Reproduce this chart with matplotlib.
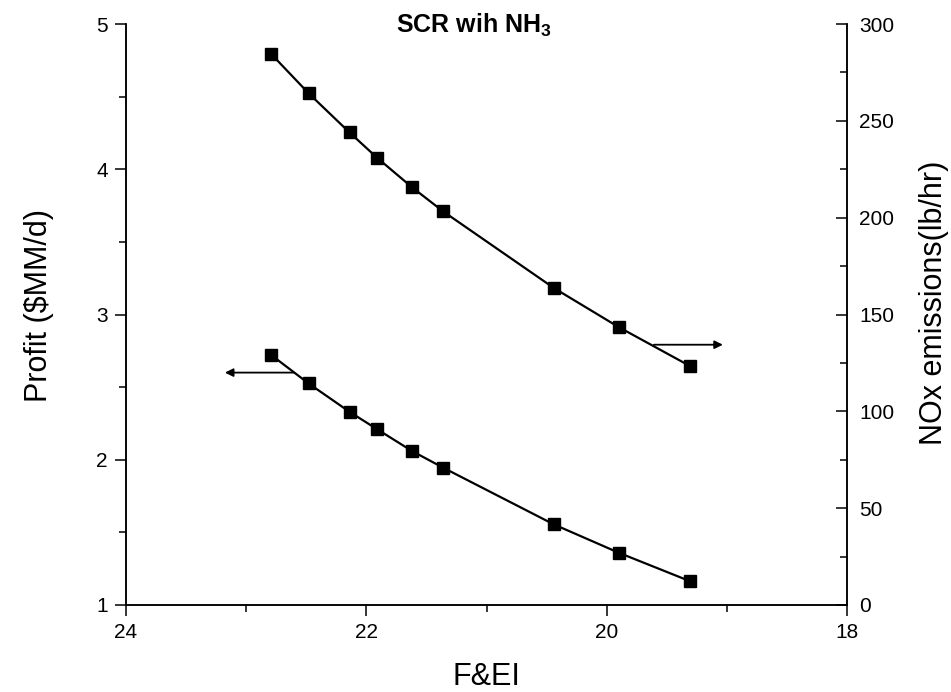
import matplotlib
matplotlib.use("Agg")
import matplotlib.pyplot as plt
from matplotlib.ticker import MultipleLocator

plt.rcParams["font.family"] = ["Liberation Sans", "DejaVu Sans"]
plt.rcParams["mathtext.fontset"] = "custom"
plt.rcParams["mathtext.bf"] = "Liberation Sans:bold"
plt.rcParams["mathtext.rm"] = "Liberation Sans"

# F&EI values (x axis, reversed)
fei = [22.79, 22.48, 22.14, 21.91, 21.62, 21.36, 20.44, 19.90, 19.31]
# Profit ($MM/d), left axis
profit = [2.72, 2.525, 2.33, 2.21, 2.06, 1.945, 1.555, 1.36, 1.165]
# NOx emissions (lb/hr), right axis
nox = [284.4, 264.2, 244.0, 230.9, 215.7, 203.2, 163.7, 143.5, 123.5]

# arrows telling which axis each curve belongs to
profit_arrow = ((22.58, 2.60), (23.20, 2.60))
nox_arrow = ((19.63, 134.4), (19.01, 134.4))

W, H = 951, 692


def main():
    fig = plt.figure(figsize=(W / 100, H / 100), dpi=100)
    ax1 = fig.add_axes([126 / W, 1 - 605 / H, 721 / W, 581 / H])
    ax2 = ax1.twinx()

    ax1.plot(fei, profit, color="k", lw=1.6, marker="s", ms=8, mec="k", mfc="k")
    ax2.plot(fei, nox, color="k", lw=1.6, marker="s", ms=8, mec="k", mfc="k")

    ax1.set_xlim(24, 18)
    ax1.set_ylim(1, 5)
    ax2.set_ylim(0, 300)

    ax1.xaxis.set_major_locator(MultipleLocator(2))
    ax1.xaxis.set_minor_locator(MultipleLocator(1))
    ax1.yaxis.set_major_locator(MultipleLocator(1))
    ax1.yaxis.set_minor_locator(MultipleLocator(0.5))
    ax2.yaxis.set_major_locator(MultipleLocator(50))
    ax2.yaxis.set_minor_locator(MultipleLocator(25))

    for ax in (ax1, ax2):
        ax.spines["top"].set_visible(False)
        for s in ax.spines.values():
            s.set_linewidth(1.1)

    ax1.tick_params(which="major", direction="out", length=8, width=1.1, labelsize=15, pad=5)
    ax1.tick_params(which="minor", direction="out", length=5, width=1.1)
    ax2.tick_params(which="major", direction="in", length=8, width=1.1, labelsize=15, pad=8.6)
    ax2.tick_params(which="minor", direction="in", length=5, width=1.1)

    # axis titles, placed in figure pixels like the original
    fig.text(486 / W, 1 - 685 / H, "F&EI", fontsize=22, ha="center", va="baseline")
    fig.text(39 / W, 1 - 305 / H, "Profit (\\$MM/d)", fontsize=22, rotation=90,
             ha="center", va="center")
    fig.text(934 / W, 1 - 303 / H, "NOx emissions(lb/hr)", fontsize=22, rotation=90,
             ha="center", va="center")
    fig.text(474 / W, 1 - 33 / H, r"SCR wih NH$_\mathbf{3}$", fontsize=18,
             fontweight="bold", ha="center", va="baseline")

    ax1.annotate("", xy=profit_arrow[1], xytext=profit_arrow[0],
                 arrowprops=dict(arrowstyle="-|>", color="k", lw=1.3, mutation_scale=12))
    ax2.annotate("", xy=nox_arrow[1], xytext=nox_arrow[0],
                 arrowprops=dict(arrowstyle="-|>", color="k", lw=1.3, mutation_scale=12))

    fig.savefig("out.png", dpi=100)


if __name__ == '__main__':
    main()
